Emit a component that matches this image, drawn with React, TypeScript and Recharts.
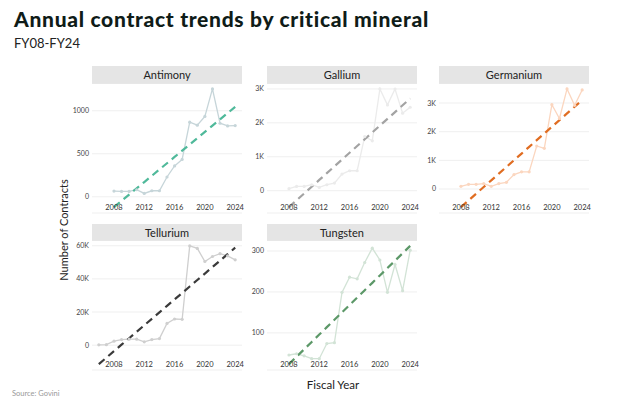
import React from 'react';
import { CartesianGrid, Line, LineChart, XAxis, YAxis } from 'recharts';

const YEARS = [2006, 2007, 2008, 2009, 2010, 2011, 2012, 2013, 2014, 2015, 2016, 2017, 2018, 2019, 2020, 2021, 2022, 2023, 2024];
const X_TICKS = [2008, 2012, 2016, 2020, 2024];

const ANTIMONY = [null, null, 66, 62, 62, 82, 39, 70, 70, 230, 359, 434, 867, 832, 934, 1254, 855, 824, 828];
const GALLIUM = [null, null, 60, 127, 127, 176, 98, 176, 225, 490, 588, 588, 1598, 1470, 3000, 2529, 2995, 2284, 2460];
const GERMANIUM = [null, null, 94, 164, 164, 188, 94, 188, 234, 504, 598, 598, 1501, 1419, 2943, 2462, 3493, 2919, 3458];
const TELLURIUM = [200, 300, 2400, 3400, 3600, 3600, 2000, 3400, 4000, 13100, 15800, 15600, 59900, 58400, 50500, 53500, 55200, 53900, 51500];
const TUNGSTEN = [null, null, 46, 49, 44, 37, 37, 74, 76, 199, 236, 232, 272, 307, 278, 199, 267, 203, 302];

const TICKS_ANTIMONY = [0, 500, 1000];
const TICKS_K3 = [0, 1000, 2000, 3000];
const TICKS_TELLURIUM = [0, 20000, 40000, 60000];
const TICKS_TUNGSTEN = [100, 200, 300];

const FONT = 'Lato, "Noto Sans", sans-serif';
const PLOT_W = 150;
const PLOT_H = 130;
const Y_AXIS_W = 30;
const X_AXIS_H = 8;
const RIGHT_PAD = 12;

const kFormat = (v: number) => (v === 0 ? '0' : `${v / 1000}K`);
const plainFormat = (v: number) => String(v);

// least-squares trend over the years that have data
function fitTrend(values: (number | null)[]) {
  const pts = YEARS.map((y, i) => [y, values[i]] as [number, number | null]).filter((p) => p[1] != null) as [number, number][];
  const n = pts.length;
  const mx = pts.reduce((s, p) => s + p[0], 0) / n;
  const my = pts.reduce((s, p) => s + p[1], 0) / n;
  const sxy = pts.reduce((s, p) => s + (p[0] - mx) * (p[1] - my), 0);
  const sxx = pts.reduce((s, p) => s + (p[0] - mx) ** 2, 0);
  const slope = sxy / sxx;
  return YEARS.map((y, i) => (values[i] == null ? null : my + slope * (y - mx)));
}

const PANELS = [
  { name: 'Antimony', values: ANTIMONY, ticks: TICKS_ANTIMONY, fmt: plainFormat, line: '#c6d5d9', dash: '#4fb99a', left: 92, top: 83, strip: 66, stripH: 18 },
  { name: 'Gallium', values: GALLIUM, ticks: TICKS_K3, fmt: kFormat, line: '#ebebeb', dash: '#a3a3a3', left: 267, top: 83, strip: 66, stripH: 18 },
  { name: 'Germanium', values: GERMANIUM, ticks: TICKS_K3, fmt: kFormat, line: '#fbd6bf', dash: '#e06d22', left: 439, top: 83, strip: 66, stripH: 18 },
  { name: 'Tellurium', values: TELLURIUM, ticks: TICKS_TELLURIUM, fmt: kFormat, line: '#cfcfcf', dash: '#3a3a3a', left: 92, top: 240, strip: 224, stripH: 17 },
  { name: 'Tungsten', values: TUNGSTEN, ticks: TICKS_TUNGSTEN, fmt: plainFormat, line: '#d2e3d6', dash: '#5c9868', left: 267, top: 240, strip: 224, stripH: 17 },
];

const XTick = (props: any) => {
  const { x, y, payload } = props;
  return (
    <text x={x} y={y - 6} textAnchor="middle" dominantBaseline="central" fontSize={7.5} fill="#333" fontFamily={FONT}>
      {payload.value}
    </text>
  );
};

const Panel = ({ p }: { p: (typeof PANELS)[number] }) => {
  const trend = fitTrend(p.values);
  const rows = YEARS.map((year, i) => ({ year, value: p.values[i], trend: trend[i] }));
  const all = [...p.values, ...trend].filter((v) => v != null) as number[];
  const lo = Math.min(...all);
  const hi = Math.max(...all);
  const pad = (hi - lo) * 0.05;

  return (
    <div style={{ position: 'absolute', left: p.left - Y_AXIS_W, top: p.top }}>
      <LineChart
        width={Y_AXIS_W + PLOT_W + RIGHT_PAD}
        height={PLOT_H + X_AXIS_H}
        data={rows}
        margin={{ top: 0, right: RIGHT_PAD, bottom: 0, left: 0 }}
      >
        <CartesianGrid vertical={false} stroke="#ebebeb" strokeWidth={0.8} />
        <XAxis
          dataKey="year"
          type="number"
          domain={[2005.1, 2024.9]}
          ticks={X_TICKS}
          interval={0}
          axisLine={false}
          tickLine={false}
          tickSize={0}
          tickMargin={0}
          height={X_AXIS_H}
          tick={<XTick />}
        />
        <YAxis
          type="number"
          domain={[lo - pad, hi + pad]}
          ticks={p.ticks}
          interval={0}
          tickFormatter={p.fmt}
          axisLine={false}
          tickLine={false}
          tickSize={0}
          tickMargin={3}
          width={Y_AXIS_W}
          allowDataOverflow
          tick={{ fontSize: 7, fill: '#444', fontFamily: FONT }}
        />
        <Line
          dataKey="value"
          stroke={p.line}
          strokeWidth={1.3}
          dot={{ r: 1.6, fill: p.line, stroke: 'none' }}
          isAnimationActive={false}
        />
        <Line
          dataKey="trend"
          stroke={p.dash}
          strokeWidth={2.2}
          strokeDasharray="7.5 5"
          dot={false}
          isAnimationActive={false}
        />
      </LineChart>
    </div>
  );
};

export default function App() {
  return (
    <div style={{ position: 'absolute', left: 0, top: 0, width: 624, height: 398, background: '#fff', overflow: 'hidden' }}>
      <svg width={624} height={398} style={{ position: 'absolute', left: 0, top: 0 }}>
        <text x={14} y={26.5} fontFamily={FONT} fontWeight={900} fontSize={21} letterSpacing={0.7} fill="#0f1c18">
          Annual contract trends by critical mineral
        </text>
        <text x={14} y={48.3} fontFamily={FONT} fontSize={13} fill="#222">
          FY08-FY24
        </text>
        {PANELS.map((p) => (
          <g key={p.name}>
            <rect x={p.left} y={p.strip} width={PLOT_W} height={p.stripH} fill="#e5e5e5" />
            <text x={p.left + PLOT_W / 2} y={p.strip + p.stripH / 2 + 4} textAnchor="middle" fontFamily={FONT} fontSize={11} fill="#222">
              {p.name}
            </text>
          </g>
        ))}
        <text x={68} y={230} textAnchor="middle" transform="rotate(-90, 68, 230)" fontFamily={FONT} fontSize={11} fill="#222">
          Number of Contracts
        </text>
        <text x={333} y={389} textAnchor="middle" fontFamily={FONT} fontSize={11.5} fill="#222">
          Fiscal Year
        </text>
        <text x={12} y={395.5} fontFamily={FONT} fontSize={7.5} fill="#999">
          Source: Govini
        </text>
      </svg>
      {PANELS.map((p) => (
        <Panel key={p.name} p={p} />
      ))}
    </div>
  );
}
